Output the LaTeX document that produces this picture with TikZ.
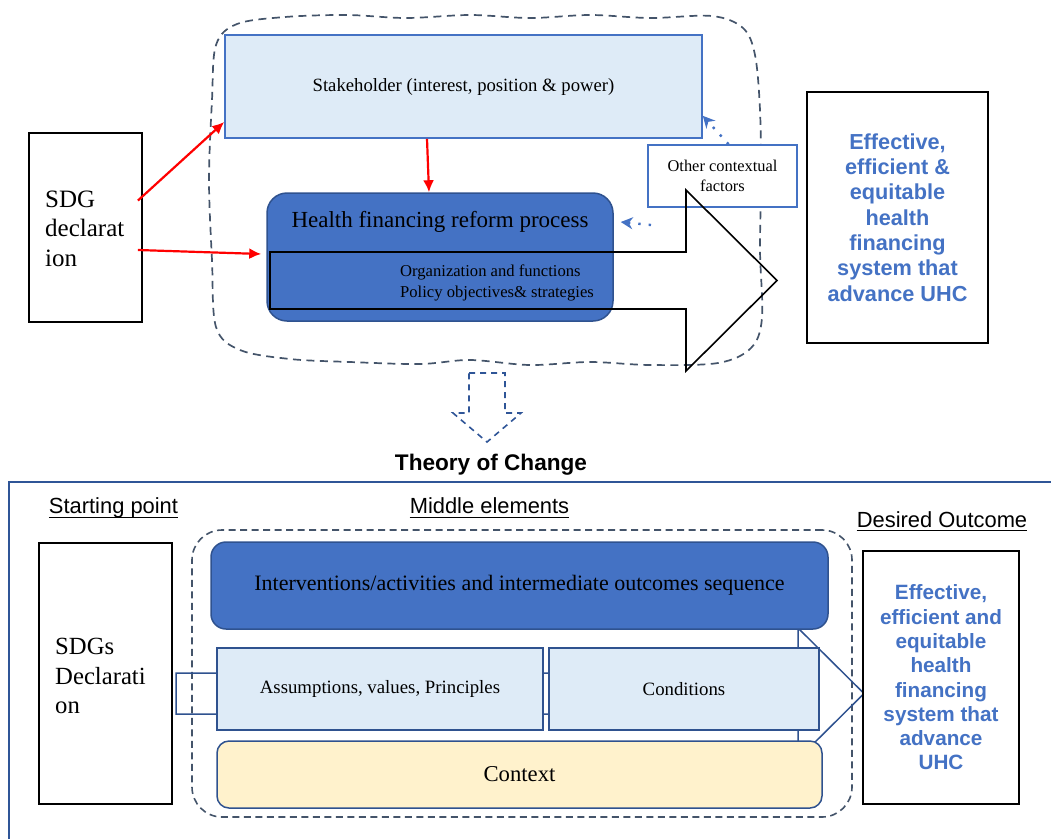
\documentclass[tikz,border=0pt]{standalone}
\usepackage{fontspec}
\setmainfont{Liberation Serif}
\newfontfamily\arialf{Liberation Sans}
\usetikzlibrary{arrows.meta,calc}
\definecolor{accblue}{HTML}{4472C4}
\definecolor{darkblue}{HTML}{2F528F}
\definecolor{lightblue}{HTML}{DEEBF7}
\definecolor{lightyellow}{HTML}{FFF2CC}
\definecolor{slate}{HTML}{44546A}
\definecolor{framecol}{HTML}{2F5597}
\definecolor{redline}{HTML}{FF0000}
\begin{document}
\begin{tikzpicture}[x=1pt,y=-1pt,
  blackbox/.style={draw=black, line width=1.9pt, fill=white, inner sep=0pt},
  lightbox/.style={draw=accblue, line width=1.6pt, fill=lightblue, inner sep=0pt},
  lightboxd/.style={draw=darkblue, line width=1.5pt, fill=lightblue, inner sep=0pt},
  darkbox/.style={draw=darkblue, line width=1.5pt, fill=accblue, inner sep=0pt, rounded corners=#1},
  ctxbox/.style={draw=darkblue, line width=1.5pt, fill=lightyellow, inner sep=0pt, rounded corners=12pt},
  cloudline/.style={draw=slate, line width=1.7pt, dash pattern=on 8pt off 5.5pt},
  dashframe/.style={draw=slate, line width=1.6pt, dash pattern=on 7pt off 4.5pt, rounded corners=30pt, inner sep=0pt},
  redarrow/.style={draw=redline, line width=2.2pt, -{Latex[length=12pt,width=11pt]}},
  dotarrow/.style={draw=accblue, line width=2.4pt, dash pattern=on 2.4pt off 8pt, -{Stealth[length=12pt,width=12pt]}},
  bigarrow/.style={draw=black, line width=1.6pt},
  blueshape/.style={draw=darkblue, line width=1.5pt},
  dashblue/.style={draw=framecol, line width=1.6pt, dash pattern=on 6pt off 5pt},
  lbl/.style={font=\arialf\fontsize{21.9}{26}\selectfont, inner sep=0pt},
  outtext/.style={text=accblue, align=center}
]
\useasboundingbox (0,0) rectangle (1051,839);

% ===== top part =====
\draw[cloudline] plot[smooth cycle, tension=0.55] coordinates {
 (237,24) (285,17) (347,15) (406,18) (470,15) (530,18) (590,15) (650,18) (712,16)
 (743,28) (755,55) (760,110) (761,180) (760,250) (762,318) (751,348) (718,363)
 (650,365) (590,362) (530,365) (470,360) (420,364) (350,362) (290,359) (240,350)
 (216,327) (212,260) (209,180) (212,100) (216,45)};

\node[blackbox, minimum width=113pt, minimum height=189pt] (sdg1) at (85.5,227.5) {};
\node[anchor=west, align=left, inner sep=0pt, font=\fontsize{25}{29.5}\selectfont] (sdg1t) at (45,228.5) {SDG\\declarat\\ion};

\node[lightbox, minimum width=477pt, minimum height=103pt, font=\fontsize{18.7}{22}\selectfont] (stake) at (463.5,86.5) {Stakeholder (interest, position \& power)};

\node[darkbox=20pt, minimum width=346pt, minimum height=128pt] (health) at (440,257) {};
\node[inner sep=0pt, font=\fontsize{23}{27}\selectfont] (healtht) at (440,222) {Health financing reform process};

\node[draw=accblue, line width=1.6pt, fill=white, inner sep=0pt, minimum width=149pt, minimum height=62pt, align=center, font=\fontsize{16.4}{19.5}\selectfont] (other) at (722.5,176) {Other contextual\\factors};

\node[blackbox, minimum width=181pt, minimum height=251pt, outtext, font=\arialf\bfseries\fontsize{21.7}{25.3}\selectfont] (out1) at (897.5,217.5) {Effective,\\efficient \&\\equitable\\health\\financing\\system that\\advance UHC};

% big hollow arrow
\draw[bigarrow] (270,252) -- (686,252) -- (686,190) -- (777,280.5) -- (686,371) -- (686,309) -- (270,309) -- cycle;
\node[anchor=west, align=left, inner sep=0pt, font=\fontsize{16.6}{21}\selectfont] (orgt) at (400,282.5) {Organization and functions\\Policy objectives\& strategies};

% red arrows
\draw[redarrow] ([xshift=-5pt,yshift=27pt]sdg1.east) -- ([yshift=-35.5pt]stake.west);
\draw[redarrow] ([xshift=-5pt,yshift=-22.5pt]sdg1.east) -- ([xshift=-5pt,yshift=3pt]health.west);
\draw[redarrow] ([xshift=-36.5pt]stake.south) -- ([xshift=-11pt]health.north);

% dotted arrows
\draw[dotarrow] ([xshift=6pt]other.north) -- ([yshift=23pt]stake.south east);
\coordinate (dotstart) at (651,225);
\draw[dotarrow] (dotstart) -- ([xshift=7pt,yshift=35pt]health.east);

% dashed down arrow
\draw[dashblue] (469,373) -- (505,373) -- (505,413) -- (521,413) -- (487,442) -- (453,413) -- (469,413) -- cycle;

\node[anchor=base, inner sep=0pt, font=\arialf\bfseries\fontsize{22.6}{26}\selectfont] (toc) at (491,470) {Theory of Change};

% frame
\draw[draw=framecol, line width=1.7pt] (9,839) -- (9,482) -- (1051,482);

% ===== bottom part =====
\node[lbl, anchor=base] (startlbl) at (113.5,513) {Starting point};
\node[lbl, anchor=base] (midlbl) at (489.5,513) {Middle elements};
\node[lbl, anchor=base] (deslbl) at (942,527) {Desired Outcome};
\draw[line width=1.2pt] ([yshift=-4.5pt]startlbl.base west) -- ([yshift=-4.5pt]startlbl.base east);
\draw[line width=1.2pt] ([yshift=-4.5pt]midlbl.base west) -- ([yshift=-4.5pt]midlbl.base east);
\draw[line width=1.2pt] ([yshift=-3.5pt]deslbl.base west) -- ([yshift=-3.5pt]deslbl.base east);

\node[blackbox, minimum width=133pt, minimum height=261pt] (sdg2) at (105.5,673.5) {};
\node[anchor=west, align=left, inner sep=0pt, font=\fontsize{24.7}{29.5}\selectfont] (sdg2t) at (55,676) {SDGs\\Declarati\\on};

\node[dashframe, minimum width=660pt, minimum height=287pt] (midframe) at (522,673.5) {};

% blue arrow behind boxes
\draw[blueshape] (176,673) -- (798,673) -- (798,628) -- (864,693.5) -- (798,759) -- (798,714) -- (176,714) -- cycle;

\node[darkbox=15pt, minimum width=617pt, minimum height=87pt, font=\fontsize{22}{26}\selectfont] (interv) at (519.5,585.5) {Interventions/activities and intermediate outcomes sequence};
\node[lightboxd, minimum width=326pt, minimum height=82pt, font=\fontsize{18.8}{22}\selectfont] (assum) at (380,689) {Assumptions, values, Principles};
\node[lightboxd, minimum width=270pt, minimum height=82pt, font=\fontsize{18.8}{22}\selectfont] (cond) at (684,689) {Conditions};
\node[ctxbox, minimum width=605pt, minimum height=67pt, font=\fontsize{22.7}{26}\selectfont] (ctx) at (519.5,774.5) {Context};

\node[blackbox, minimum width=156pt, minimum height=253pt, outtext, font=\arialf\bfseries\fontsize{20.7}{24.3}\selectfont] (out2) at (941,677.5) {Effective,\\efficient and\\equitable\\health\\financing\\system that\\advance\\UHC};

\end{tikzpicture}
\end{document}
